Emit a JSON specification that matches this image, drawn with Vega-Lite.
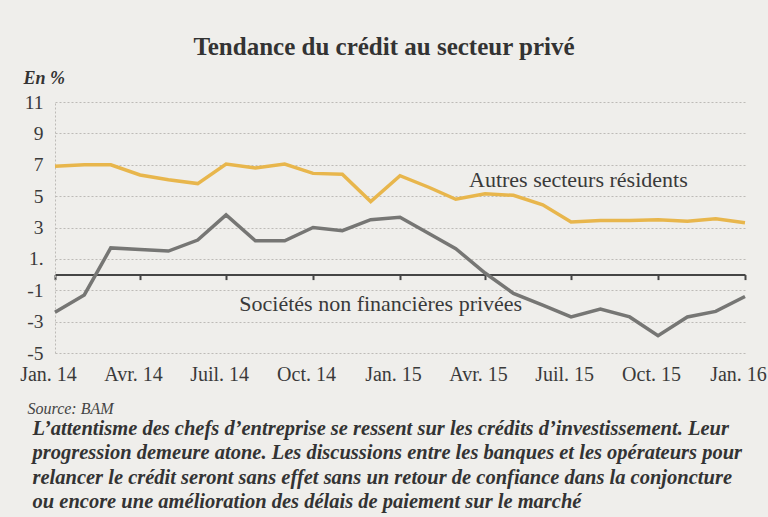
{
  "$schema": "https://vega.github.io/schema/vega-lite/v6.json",
  "width": 690,
  "height": 251,
  "autosize": "none",
  "padding": {"left": 55, "top": 102, "right": 23, "bottom": 164},
  "background": "#efeeeb",
  "config": {"view": {"stroke": null}, "font": "Liberation Serif"},
  "title": {
    "text": "Tendance du crédit au secteur privé",
    "font": "Liberation Serif",
    "fontSize": 25,
    "fontWeight": "bold",
    "color": "#333333",
    "anchor": "middle",
    "frame": "group",
    "baseline": "alphabetic",
    "dx": -16,
    "dy": 23,
    "offset": 12
  },
  "datasets": {
    "series": [
      {"date": "2014-01-01T00:00", "serie": "Autres secteurs résidents", "value": 6.9},
      {"date": "2014-02-01T00:00", "serie": "Autres secteurs résidents", "value": 7.0},
      {"date": "2014-03-01T00:00", "serie": "Autres secteurs résidents", "value": 7.0},
      {"date": "2014-04-01T00:00", "serie": "Autres secteurs résidents", "value": 6.35},
      {"date": "2014-05-01T00:00", "serie": "Autres secteurs résidents", "value": 6.05},
      {"date": "2014-06-01T00:00", "serie": "Autres secteurs résidents", "value": 5.8},
      {"date": "2014-07-01T00:00", "serie": "Autres secteurs résidents", "value": 7.05},
      {"date": "2014-08-01T00:00", "serie": "Autres secteurs résidents", "value": 6.8},
      {"date": "2014-09-01T00:00", "serie": "Autres secteurs résidents", "value": 7.05},
      {"date": "2014-10-01T00:00", "serie": "Autres secteurs résidents", "value": 6.45},
      {"date": "2014-11-01T00:00", "serie": "Autres secteurs résidents", "value": 6.4},
      {"date": "2014-12-01T00:00", "serie": "Autres secteurs résidents", "value": 4.65},
      {"date": "2015-01-01T00:00", "serie": "Autres secteurs résidents", "value": 6.3},
      {"date": "2015-02-01T00:00", "serie": "Autres secteurs résidents", "value": 5.55},
      {"date": "2015-03-01T00:00", "serie": "Autres secteurs résidents", "value": 4.8},
      {"date": "2015-04-01T00:00", "serie": "Autres secteurs résidents", "value": 5.15},
      {"date": "2015-05-01T00:00", "serie": "Autres secteurs résidents", "value": 5.05},
      {"date": "2015-06-01T00:00", "serie": "Autres secteurs résidents", "value": 4.45},
      {"date": "2015-07-01T00:00", "serie": "Autres secteurs résidents", "value": 3.35},
      {"date": "2015-08-01T00:00", "serie": "Autres secteurs résidents", "value": 3.45},
      {"date": "2015-09-01T00:00", "serie": "Autres secteurs résidents", "value": 3.45},
      {"date": "2015-10-01T00:00", "serie": "Autres secteurs résidents", "value": 3.5},
      {"date": "2015-11-01T00:00", "serie": "Autres secteurs résidents", "value": 3.4},
      {"date": "2015-12-01T00:00", "serie": "Autres secteurs résidents", "value": 3.55},
      {"date": "2016-01-01T00:00", "serie": "Autres secteurs résidents", "value": 3.3},
      {"date": "2014-01-01T00:00", "serie": "Sociétés non financières privées", "value": -2.4},
      {"date": "2014-02-01T00:00", "serie": "Sociétés non financières privées", "value": -1.3},
      {"date": "2014-03-01T00:00", "serie": "Sociétés non financières privées", "value": 1.7},
      {"date": "2014-04-01T00:00", "serie": "Sociétés non financières privées", "value": 1.6},
      {"date": "2014-05-01T00:00", "serie": "Sociétés non financières privées", "value": 1.5},
      {"date": "2014-06-01T00:00", "serie": "Sociétés non financières privées", "value": 2.2},
      {"date": "2014-07-01T00:00", "serie": "Sociétés non financières privées", "value": 3.8},
      {"date": "2014-08-01T00:00", "serie": "Sociétés non financières privées", "value": 2.15},
      {"date": "2014-09-01T00:00", "serie": "Sociétés non financières privées", "value": 2.15},
      {"date": "2014-10-01T00:00", "serie": "Sociétés non financières privées", "value": 3.0},
      {"date": "2014-11-01T00:00", "serie": "Sociétés non financières privées", "value": 2.8},
      {"date": "2014-12-01T00:00", "serie": "Sociétés non financières privées", "value": 3.5},
      {"date": "2015-01-01T00:00", "serie": "Sociétés non financières privées", "value": 3.65},
      {"date": "2015-02-01T00:00", "serie": "Sociétés non financières privées", "value": 2.6},
      {"date": "2015-03-01T00:00", "serie": "Sociétés non financières privées", "value": 1.65},
      {"date": "2015-04-01T00:00", "serie": "Sociétés non financières privées", "value": 0.1},
      {"date": "2015-05-01T00:00", "serie": "Sociétés non financières privées", "value": -1.2},
      {"date": "2015-06-01T00:00", "serie": "Sociétés non financières privées", "value": -1.95},
      {"date": "2015-07-01T00:00", "serie": "Sociétés non financières privées", "value": -2.7},
      {"date": "2015-08-01T00:00", "serie": "Sociétés non financières privées", "value": -2.2},
      {"date": "2015-09-01T00:00", "serie": "Sociétés non financières privées", "value": -2.7},
      {"date": "2015-10-01T00:00", "serie": "Sociétés non financières privées", "value": -3.9},
      {"date": "2015-11-01T00:00", "serie": "Sociétés non financières privées", "value": -2.7},
      {"date": "2015-12-01T00:00", "serie": "Sociétés non financières privées", "value": -2.35},
      {"date": "2016-01-01T00:00", "serie": "Sociétés non financières privées", "value": -1.4}
    ],
    "labels": [
      {"date": "2015-03-15T00:00", "value": 5.6, "label": "Autres secteurs résidents"},
      {"date": "2014-07-15T00:00", "value": -2.33, "label": "Sociétés non financières privées"}
    ]
  },
  "encoding": {
    "y": {
      "field": "value",
      "type": "quantitative",
      "scale": {"domain": [-5, 11], "nice": false, "zero": false},
      "axis": {
        "values": [-5, -3, -1, 1, 3, 5, 7, 9, 11],
        "labelExpr": "datum.value == 1 ? '1.' : toString(datum.value)",
        "grid": true,
        "gridDash": [2, 2],
        "gridColor": "#bdbbb7",
        "gridWidth": 1,
        "domain": true,
        "domainDash": [2, 2],
        "domainColor": "#bdbbb7",
        "ticks": false,
        "labelPadding": 12,
        "labelFont": "Liberation Serif",
        "labelFontSize": 19.5,
        "labelColor": "#3a3a3a",
        "title": "En %",
        "titleAngle": 0,
        "titleAlign": "left",
        "titleBaseline": "alphabetic",
        "titleX": -32,
        "titleY": -19,
        "titleFont": "Liberation Serif",
        "titleFontStyle": "italic",
        "titleFontWeight": "bold",
        "titleFontSize": 18,
        "titleColor": "#333333"
      }
    }
  },
  "layer": [
    {
      "data": {"name": "series"},
      "mark": {"type": "line", "strokeWidth": 3.5, "strokeJoin": "miter"},
      "encoding": {
        "x": {
          "field": "date",
          "type": "temporal",
          "scale": {"domain": [{"year": 2014, "month": 1, "date": 1}, {"year": 2016, "month": 1, "date": 1}]},
          "axis": {
            "orient": "bottom",
            "values": [
              {"year": 2014, "month": 1, "date": 1},
              {"year": 2014, "month": 4, "date": 1},
              {"year": 2014, "month": 7, "date": 1},
              {"year": 2014, "month": 10, "date": 1},
              {"year": 2015, "month": 1, "date": 1},
              {"year": 2015, "month": 4, "date": 1},
              {"year": 2015, "month": 7, "date": 1},
              {"year": 2015, "month": 10, "date": 1},
              {"year": 2016, "month": 1, "date": 1}
            ],
            "labelExpr": "['Jan.','Fév.','Mars','Avr.','Mai','Juin','Juil.','Août','Sept.','Oct.','Nov.','Déc.'][month(datum.value)] + ' ' + timeFormat(datum.value, '%y')",
            "offset": -78.4,
            "grid": false,
            "domainColor": "#454545",
            "domainWidth": 2,
            "tickColor": "#454545",
            "tickSize": 5,
            "tickWidth": 2,
            "labelPadding": 84.5,
            "labelOffset": -7,
            "labelFont": "Liberation Serif",
            "labelFontSize": 20,
            "labelColor": "#3a3a3a",
            "labelFlush": false,
            "title": "Source: BAM",
            "titleFont": "Liberation Serif",
            "titleFontStyle": "italic",
            "titleFontWeight": "normal",
            "titleFontSize": 16,
            "titleColor": "#444444",
            "titleAnchor": "start",
            "titleAlign": "left",
            "titleBaseline": "alphabetic",
            "titleX": -28,
            "titleY": 139
          }
        },
        "color": {
          "field": "serie",
          "type": "nominal",
          "scale": {"domain": ["Autres secteurs résidents", "Sociétés non financières privées"], "range": ["#e8b64c", "#767674"]},
          "legend": null
        }
      }
    },
    {
      "data": {"name": "labels"},
      "mark": {"type": "text", "align": "left", "baseline": "alphabetic", "font": "Liberation Serif", "fontSize": 22, "color": "#3a3a3a"},
      "encoding": {
        "x": {
          "field": "date",
          "type": "temporal",
          "axis": {
            "orient": "bottom",
            "labels": false,
            "ticks": false,
            "domain": false,
            "grid": false,
            "title": [
              "L’attentisme des chefs d’entreprise se ressent sur les crédits d’investissement. Leur",
              "progression demeure atone. Les discussions entre les banques et les opérateurs pour",
              "relancer le crédit seront sans effet sans un retour de confiance dans la conjoncture",
              "ou encore une amélioration des délais de paiement sur le marché"
            ],
            "titleFont": "Liberation Serif",
            "titleFontStyle": "italic",
            "titleFontWeight": "bold",
            "titleFontSize": 20.5,
            "titleColor": "#333333",
            "titleAnchor": "start",
            "titleAlign": "left",
            "titleBaseline": "alphabetic",
            "titleX": -23,
            "titleY": 81,
            "titleLineHeight": 24.5
          }
        },
        "text": {"field": "label"}
      }
    }
  ],
  "resolve": {"axis": {"x": "independent"}}
}
